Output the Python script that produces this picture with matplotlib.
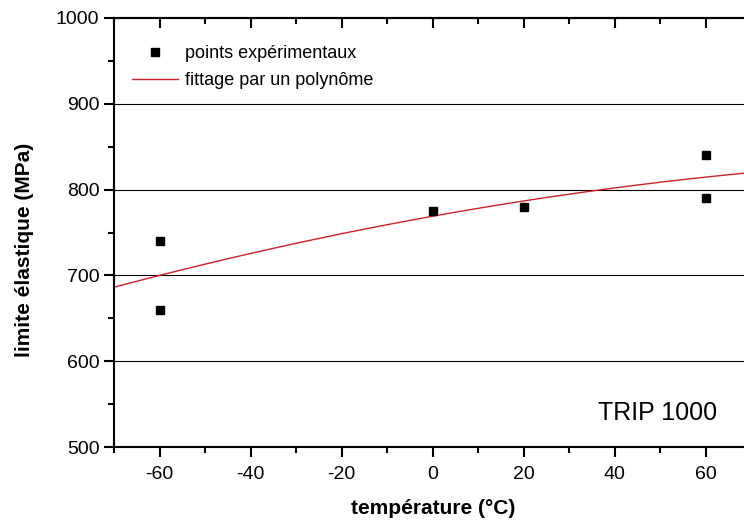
import numpy as np
import matplotlib.pyplot as plt
from matplotlib.ticker import MultipleLocator

plt.rcParams['font.family'] = ['Liberation Sans', 'DejaVu Sans']
plt.rcParams['axes.unicode_minus'] = False

# points expérimentaux
temp_pts = [-60, -60, 0, 20, 60, 60]
limite_pts = [740, 660, 775, 780, 840, 790]

# coefficients du polynôme (c0 + c1*T + c2*T^2), estimés sur la courbe
poly_coefs = [769.0, 0.955, -0.00325]

x_range = [-70, 70]
y_range = [500, 1000]
grid_levels = [600, 700, 800, 900]

fig = plt.figure(figsize=(7.44, 5.25), dpi=100)
ax = fig.add_axes([114 / 744, 78 / 525, 637.5 / 744, 429 / 525])

T = np.linspace(x_range[0], x_range[1], 200)
fit = poly_coefs[0] + poly_coefs[1] * T + poly_coefs[2] * T ** 2

for g in grid_levels:
    ax.axhline(g, color='black', lw=0.8, zorder=1)

ax.plot(temp_pts, limite_pts, 's', color='black', ms=6, ls='none',
        label='points expérimentaux', zorder=3)
ax.plot(T, fit, color='#d0202a', lw=1.0, label='fittage par un polynôme', zorder=2)

ax.set_xlim(x_range)
ax.set_ylim(y_range)
ax.set_xticks([-60, -40, -20, 0, 20, 40, 60])
ax.xaxis.set_minor_locator(MultipleLocator(10))
ax.yaxis.set_major_locator(MultipleLocator(100))
ax.yaxis.set_minor_locator(MultipleLocator(50))

ax.tick_params(axis='both', which='both', direction='out', labelsize=14, width=1.5)
ax.tick_params(axis='x', pad=7)
ax.tick_params(which='major', length=7)
ax.tick_params(which='minor', length=4)

# ticks du haut, vers l'intérieur
top = ax.secondary_xaxis('top')
top.set_xticks([-60, -40, -20, 0, 20, 40, 60])
top.xaxis.set_minor_locator(MultipleLocator(10))
top.tick_params(which='both', direction='in', width=1.5, labeltop=False)
top.tick_params(which='major', length=7)
top.tick_params(which='minor', length=4)
top.spines['top'].set_linewidth(1.5)

for s in ['left', 'bottom', 'top']:
    ax.spines[s].set_linewidth(1.5)
ax.spines['right'].set_visible(False)

ax.set_xlabel('température (°C)', fontsize=15, fontweight='bold')
ax.set_ylabel('limite élastique (MPa)', fontsize=15, fontweight='bold')
ax.xaxis.set_label_coords(0.5, -0.122)
ax.yaxis.set_label_coords(-0.125, 0.459)

ax.text(62.5, 540, 'TRIP 1000', fontsize=18, ha='right', va='center')

ax.legend(loc='upper left', bbox_to_anchor=(0.028, 0.937), frameon=False,
          fontsize=13, borderpad=0, borderaxespad=0, handlelength=2.55,
          handletextpad=0.39, labelspacing=0.55, numpoints=1)

fig.savefig('out.png', dpi=100)
